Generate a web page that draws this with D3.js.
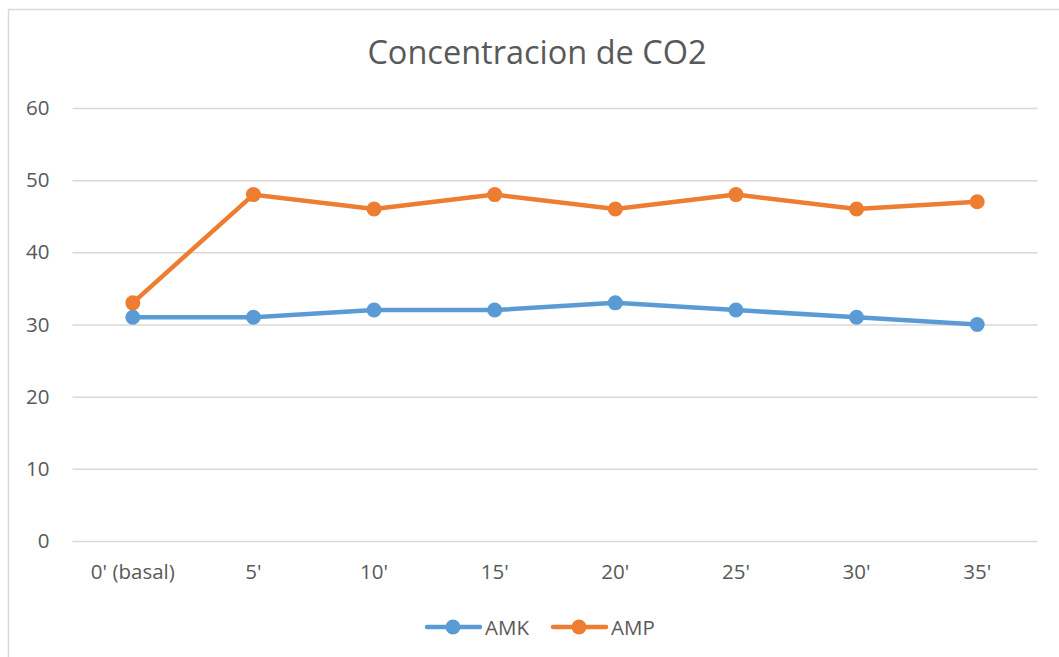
<!DOCTYPE html>
<html>
<head>
<meta charset="utf-8">
<script src="https://cdn.jsdelivr.net/npm/d3@7"></script>
<style>
  body { margin: 0; background: #fff; }
  svg { font-family: "Open Sans", "Liberation Sans", sans-serif; }
</style>
</head>
<body>
<svg width="1059" height="657"></svg>
<script>
const categories = ["0' (basal)", "5'", "10'", "15'", "20'", "25'", "30'", "35'"];
const amk = [31, 31, 32, 32, 33, 32, 31, 30];
const amp = [33, 48, 46, 48, 46, 48, 46, 47];
const yTicks = [0, 10, 20, 30, 40, 50, 60];

const series = [
    { name: "AMK", values: amk, color: "#5B9BD5" },
    { name: "AMP", values: amp, color: "#ED7D31" }
];

const svg = d3.select("svg");

// chart frame, cut off on the right and bottom
svg.append("rect")
    .attr("x", 8.5).attr("y", 9.5)
    .attr("width", 1070).attr("height", 680)
    .attr("fill", "none")
    .attr("stroke", "#D9D9D9")
    .attr("stroke-width", 1.5);

const xScale = d3.scaleBand()
    .domain(categories)
    .range([72.5, 1037.5]);

const yScale = d3.scaleLinear()
    .domain([0, 60])
    .range([541, 108]);

svg.append("text")
    .attr("x", 537).attr("y", 64)
    .attr("text-anchor", "middle")
    .attr("font-size", 32.5)
    .attr("fill", "#595959")
    .text("Concentracion de CO2");

const yAxis = svg.append("g")
    .attr("transform", "translate(72.5,0)")
    .call(d3.axisLeft(yScale).tickValues(yTicks).tickSize(-965).tickPadding(23));

yAxis.select(".domain").remove();
yAxis.selectAll(".tick line").attr("stroke", "#D9D9D9").attr("stroke-width", 1.5);
yAxis.selectAll(".tick text")
    .attr("fill", "#595959")
    .attr("font-size", 20.5)
    .attr("font-family", "Open Sans, sans-serif");

const xAxis = svg.append("g")
    .attr("transform", "translate(0,541)")
    .call(d3.axisBottom(xScale).tickSize(0).tickPadding(23));

xAxis.select(".domain").remove();
xAxis.selectAll(".tick text")
    .attr("fill", "#595959")
    .attr("font-size", 20.5)
    .attr("font-family", "Open Sans, sans-serif");

const cx = (d, i) => xScale(categories[i]) + xScale.bandwidth() / 2;

const line = d3.line()
    .x((d, i) => cx(d, i))
    .y((d) => yScale(d));

series.forEach((s) => {
    svg.append("path")
        .datum(s.values)
        .attr("fill", "none")
        .attr("stroke", s.color)
        .attr("stroke-width", 4.5)
        .attr("stroke-linejoin", "round")
        .attr("stroke-linecap", "round")
        .attr("d", line);

    svg.selectAll(".pt-" + s.name)
        .data(s.values)
        .enter()
        .append("circle")
        .attr("cx", cx)
        .attr("cy", (d) => yScale(d))
        .attr("r", 7.5)
        .attr("fill", s.color);
});

// legend
const legend = svg.append("g").attr("transform", "translate(425,627)");
series.forEach((s, i) => {
    const g = legend.append("g").attr("transform", `translate(${i * 126},0)`);
    g.append("line")
        .attr("x1", 2).attr("x2", 55)
        .attr("stroke", s.color)
        .attr("stroke-width", 4.5)
        .attr("stroke-linecap", "round");
    g.append("circle").attr("cx", 28).attr("r", 7.5).attr("fill", s.color);
    g.append("text")
        .attr("x", 60).attr("y", 7.5)
        .attr("font-size", 20.5)
        .attr("fill", "#595959")
        .text(s.name);
});
</script>
</body>
</html>
